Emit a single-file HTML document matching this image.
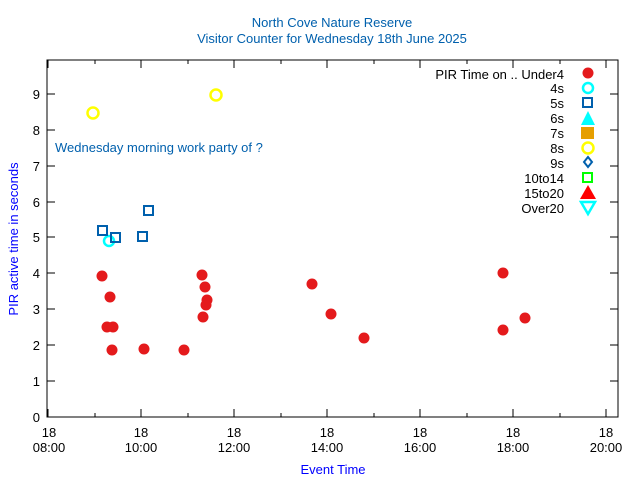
<!DOCTYPE html>
<html><head><meta charset="utf-8"><style>body{margin:0;background:#fff}svg{display:block}text{font-family:"Liberation Sans",sans-serif;font-size:13px}</style></head><body>
<svg width="640" height="480" xmlns="http://www.w3.org/2000/svg">
<text x="332" y="27" text-anchor="middle" fill="#0060ad">North Cove Nature Reserve</text>
<text x="332" y="43" text-anchor="middle" fill="#0060ad">Visitor Counter for Wednesday 18th June 2025</text>
<rect x="47" y="60" width="571" height="357" fill="none" stroke="#000" stroke-width="1"/>
<g stroke="#000" stroke-width="1">
<line x1="47" y1="381" x2="55" y2="381"/><line x1="618" y1="381" x2="610" y2="381"/>
<line x1="47" y1="345" x2="55" y2="345"/><line x1="618" y1="345" x2="610" y2="345"/>
<line x1="47" y1="309" x2="55" y2="309"/><line x1="618" y1="309" x2="610" y2="309"/>
<line x1="47" y1="273" x2="55" y2="273"/><line x1="618" y1="273" x2="610" y2="273"/>
<line x1="47" y1="237" x2="55" y2="237"/><line x1="618" y1="237" x2="610" y2="237"/>
<line x1="47" y1="202" x2="55" y2="202"/><line x1="618" y1="202" x2="610" y2="202"/>
<line x1="47" y1="166" x2="55" y2="166"/><line x1="618" y1="166" x2="610" y2="166"/>
<line x1="47" y1="130" x2="55" y2="130"/><line x1="618" y1="130" x2="610" y2="130"/>
<line x1="47" y1="94" x2="55" y2="94"/><line x1="618" y1="94" x2="610" y2="94"/>
<line x1="48" y1="417" x2="48" y2="409"/><line x1="141" y1="417" x2="141" y2="409"/><line x1="234" y1="417" x2="234" y2="409"/><line x1="327" y1="417" x2="327" y2="409"/><line x1="420" y1="417" x2="420" y2="409"/><line x1="513" y1="417" x2="513" y2="409"/><line x1="606" y1="417" x2="606" y2="409"/>
<line x1="95" y1="417" x2="95" y2="413"/><line x1="188" y1="417" x2="188" y2="413"/><line x1="281" y1="417" x2="281" y2="413"/><line x1="374" y1="417" x2="374" y2="413"/><line x1="467" y1="417" x2="467" y2="413"/><line x1="560" y1="417" x2="560" y2="413"/>
<line x1="48" y1="60" x2="48" y2="68"/><line x1="141" y1="60" x2="141" y2="68"/><line x1="234" y1="60" x2="234" y2="68"/><line x1="327" y1="60" x2="327" y2="68"/><line x1="420" y1="60" x2="420" y2="68"/><line x1="513" y1="60" x2="513" y2="68"/><line x1="606" y1="60" x2="606" y2="68"/>
<line x1="95" y1="60" x2="95" y2="64"/><line x1="188" y1="60" x2="188" y2="64"/><line x1="281" y1="60" x2="281" y2="64"/><line x1="374" y1="60" x2="374" y2="64"/><line x1="467" y1="60" x2="467" y2="64"/><line x1="560" y1="60" x2="560" y2="64"/>
</g>
<g text-anchor="end">
<text x="40" y="422">0</text><text x="40" y="386">1</text><text x="40" y="350">2</text><text x="40" y="314">3</text><text x="40" y="278">4</text><text x="40" y="242">5</text><text x="40" y="207">6</text><text x="40" y="171">7</text><text x="40" y="135">8</text><text x="40" y="99">9</text>
</g>
<g text-anchor="middle">
<text x="49" y="437">18</text><text x="49" y="452">08:00</text>
<text x="141" y="437">18</text><text x="141" y="452">10:00</text>
<text x="234" y="437">18</text><text x="234" y="452">12:00</text>
<text x="327" y="437">18</text><text x="327" y="452">14:00</text>
<text x="420" y="437">18</text><text x="420" y="452">16:00</text>
<text x="513" y="437">18</text><text x="513" y="452">18:00</text>
<text x="606" y="437">18</text><text x="606" y="452">20:00</text>
<text x="333" y="474" fill="#0000ff">Event Time</text>
<text transform="translate(18,239) rotate(-90)" fill="#0000ff">PIR active time in seconds</text>
</g>
<text x="55" y="152" fill="#0060ad">Wednesday morning work party of ?</text>
<g text-anchor="end" fill="#000">
<text x="564" y="79">PIR Time on .. Under4</text><text x="564" y="93">4s</text><text x="564" y="108">5s</text><text x="564" y="123">6s</text><text x="564" y="138">7s</text><text x="564" y="153">8s</text><text x="564" y="168">9s</text><text x="564" y="183">10to14</text><text x="564" y="198">15to20</text><text x="564" y="213">Over20</text>
</g>
<g fill="#e41a1c">
<circle cx="588" cy="73" r="5.5"/>
<circle cx="102" cy="276" r="5.5"/><circle cx="110" cy="297" r="5.5"/><circle cx="107" cy="327" r="5.5"/><circle cx="113" cy="327" r="5.5"/><circle cx="112" cy="350" r="5.5"/><circle cx="144" cy="349" r="5.5"/><circle cx="184" cy="350" r="5.5"/>
<circle cx="202" cy="275" r="5.5"/><circle cx="205" cy="287" r="5.5"/><circle cx="207" cy="300" r="5.5"/><circle cx="206" cy="305" r="5.5"/><circle cx="203" cy="317" r="5.5"/>
<circle cx="312" cy="284" r="5.5"/><circle cx="331" cy="314" r="5.5"/><circle cx="364" cy="338" r="5.5"/><circle cx="503" cy="273" r="5.5"/><circle cx="503" cy="330" r="5.5"/><circle cx="525" cy="318" r="5.5"/>
</g>
<g fill="none" stroke="#00ffff" stroke-width="2.5"><circle cx="588" cy="88" r="5"/><circle cx="109" cy="241" r="5"/></g>
<g fill="none" stroke="#0060ad" stroke-width="2"><rect x="583" y="98" width="9" height="9"/><rect x="98" y="226" width="9" height="9"/><rect x="111" y="233" width="9" height="9"/><rect x="138" y="232" width="9" height="9"/><rect x="144" y="206" width="9" height="9"/>
<polygon points="588,157 592,162 588,167 584,162"/></g>
<polygon points="588,111 595,125 581,125" fill="#00ffff"/>
<rect x="581" y="127" width="13" height="12" fill="#e69f00"/>
<g fill="none" stroke="#ffff00" stroke-width="2.5"><circle cx="588" cy="148" r="5.5"/><circle cx="93" cy="113" r="5.5"/><circle cx="216" cy="95" r="5.5"/></g>
<rect x="583" y="173" width="9" height="9" fill="none" stroke="#00ff00" stroke-width="2"/>
<polygon points="588,185 596,199 580,199" fill="#ff0000"/>
<polygon points="581,202 595,202 588,214" fill="none" stroke="#00ffff" stroke-width="2.5"/>
</svg>
</body></html>
